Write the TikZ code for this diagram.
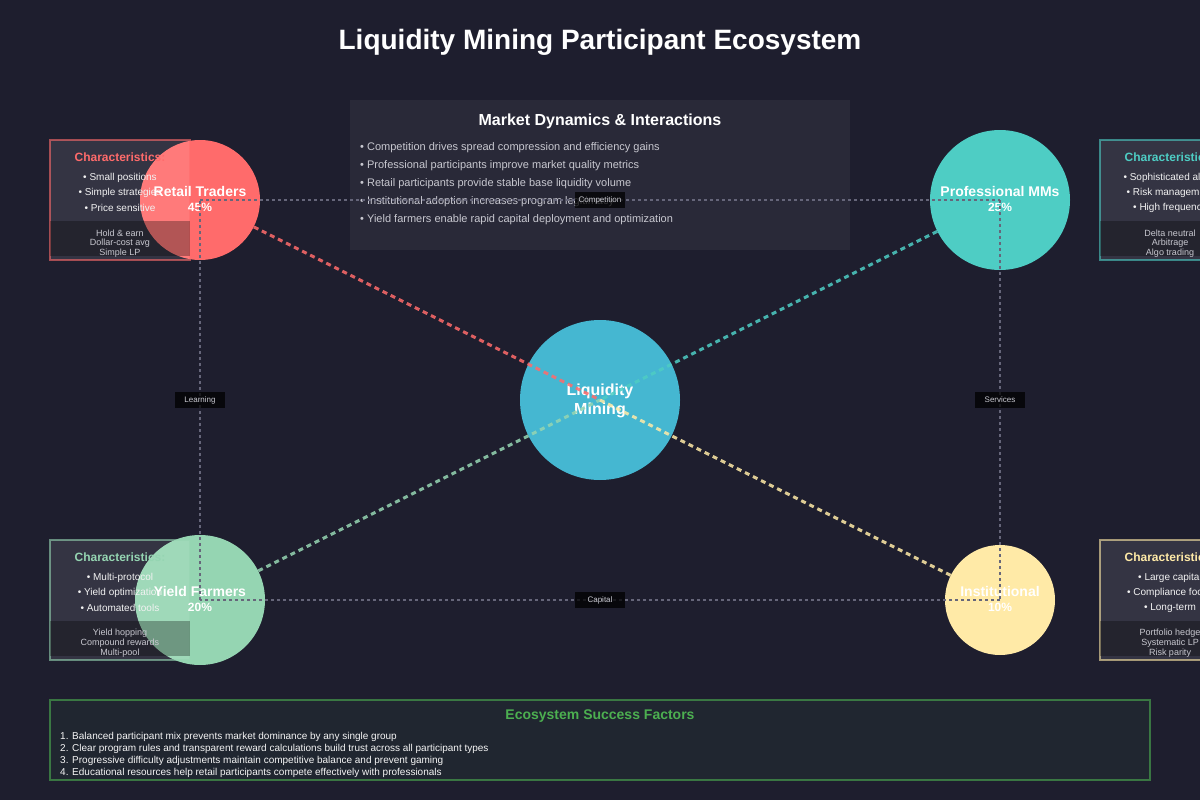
\documentclass[tikz,border=0pt]{standalone}
\usepackage{fontspec}
\setmainfont{Liberation Sans}
\definecolor{bgc}{HTML}{1E1E2E}
\definecolor{retailc}{HTML}{FF6B6B}
\definecolor{proc}{HTML}{4ECDC4}
\definecolor{yieldc}{HTML}{95D5B2}
\definecolor{instc}{HTML}{FFEAA7}
\definecolor{lmc}{HTML}{45B7D1}
\definecolor{greenc}{HTML}{4CAF50}
\definecolor{lightgray}{HTML}{C8C8D0}
\definecolor{dotgray}{HTML}{66667A}
\newcommand{\fs}[1]{\fontsize{#1}{#1}\selectfont}
\tikzset{
  part/.style={circle, inner sep=0pt, minimum size=#1, draw=none},
  pname/.style={text=white, font=\fs{14}\bfseries, inner sep=0pt},
  ppct/.style={text=white, font=\fs{12}\bfseries, inner sep=0pt},
  cbox/.style={rectangle, minimum width=140, minimum height=120, fill=white, fill opacity=0.1, draw=#1, draw opacity=0.6, line width=1.5pt, inner sep=0pt},
  cstrip/.style={rectangle, minimum width=140, minimum height=35, fill=black, fill opacity=0.3, inner sep=0pt},
  ctitle/.style={text=#1, font=\fs{12}\bfseries, inner sep=0pt},
  cbullet/.style={text=white!90!gray, font=\fs{10}, inner sep=0pt},
  cstrat/.style={text=lightgray, font=\fs{9}, inner sep=0pt},
  conn/.style={draw=dotgray, line width=1.5pt, dash pattern=on 3pt off 3pt},
  flow/.style={draw=#1, line width=3pt, dash pattern=on 5pt off 4pt, draw opacity=0.85},
  clabel/.style={rectangle, fill=black, fill opacity=0.75, text opacity=1, text=lightgray, font=\fs{8}, minimum width=50, minimum height=16, inner sep=0pt},
  mbullet/.style={anchor=west, text=lightgray, font=\fs{11}, inner sep=0pt},
  sitem/.style={anchor=west, text=white!92!gray, font=\fs{10}, inner sep=0pt},
}
\newcommand{\partbox}[9]{%
  \node[cbox=#3] (#1box) at (#2) {};
  \node[cstrip, anchor=south] (#1strip) at ([yshift=5]#1box.south) {};
  \node[ctitle=#3] (#1ctitle) at ([yshift=-18]#1box.north) {Characteristics:};
  \node[cbullet] (#1b1) at ([yshift=-39]#1box.north) {• #4};
  \node[cbullet] (#1b2) at ([yshift=-54]#1box.north) {• #5};
  \node[cbullet] (#1b3) at ([yshift=-69]#1box.north) {• #6};
  \node[cstrat] (#1s1) at ([yshift=-94]#1box.north) {#7};
  \node[cstrat] (#1s2) at ([yshift=-104]#1box.north) {#8};
  \node[cstrat] (#1s3) at ([yshift=-114]#1box.north) {#9};
}
\begin{document}
\begin{tikzpicture}[x=1pt,y=-1pt]
\useasboundingbox (0,0) rectangle (1200,800);
\clip (0,0) rectangle (1200,800);
\fill[bgc] (0,0) rectangle (1200,800);

% title
\node[text=white, font=\fs{28}\bfseries, inner sep=0pt] (title) at (600,42) {Liquidity Mining Participant Ecosystem};

% market dynamics box
\node[rectangle, minimum width=500, minimum height=150, fill=white, fill opacity=0.05, inner sep=0pt] (market) at (600,175) {};
\node[text=white, font=\fs{16}\bfseries, inner sep=0pt] (mtitle) at (600,121) {Market Dynamics \& Interactions};
\node[mbullet] (m1) at (360,148) {• Competition drives spread compression and efficiency gains};
\node[mbullet] (m2) at (360,166) {• Professional participants improve market quality metrics};
\node[mbullet] (m3) at (360,184) {• Retail participants provide stable base liquidity volume};
\node[mbullet] (m4) at (360,202) {• Institutional adoption increases program legitimacy};
\node[mbullet] (m5) at (360,220) {• Yield farmers enable rapid capital deployment and optimization};

% circles
\node[part=120, fill=retailc] (retail) at (200,200) {};
\node[part=140, fill=proc] (pro) at (1000,200) {};
\node[part=130, fill=yieldc] (yield) at (200,600) {};
\node[part=110, fill=instc] (inst) at (1000,600) {};
\node[part=160, fill=lmc] (lm) at (600,400) {};

% characteristic boxes
\partbox{r}{120,200}{retailc}{Small positions}{Simple strategies}{Price sensitive}{Hold \& earn}{Dollar-cost avg}{Simple LP}
\partbox{p}{1170,200}{proc}{Sophisticated algos}{Risk management}{High frequency}{Delta neutral}{Arbitrage}{Algo trading}
\partbox{y}{120,600}{yieldc}{Multi-protocol}{Yield optimization}{Automated tools}{Yield hopping}{Compound rewards}{Multi-pool}
\partbox{i}{1170,600}{instc}{Large capital}{Compliance focus}{Long-term}{Portfolio hedge}{Systematic LP}{Risk parity}

% circle labels
\node[pname] (retailname) at (200,191) {Retail Traders};
\node[ppct] (retailpct) at (200,207) {45\%};
\node[pname] (proname) at (1000,191) {Professional MMs};
\node[ppct] (propct) at (1000,207) {25\%};
\node[pname] (yieldname) at (200,591) {Yield Farmers};
\node[ppct] (yieldpct) at (200,607) {20\%};
\node[pname] (instname) at (1000,591) {Institutional};
\node[ppct] (instpct) at (1000,607) {10\%};
\node[text=white, font=\fs{16}\bfseries, inner sep=0pt] (lm1) at (600,391) {Liquidity};
\node[text=white, font=\fs{16}\bfseries, inner sep=0pt] (lm2) at (600,410) {Mining};

% dotted connections between participants
\draw[conn] (retail.center) -- (pro.center);
\draw[conn] (pro.center) -- (inst.center);
\draw[conn] (inst.center) -- (yield.center);
\draw[conn] (yield.center) -- (retail.center);

% flows to center
\draw[flow=retailc] (retail) -- (lm.center);
\draw[flow=proc] (pro) -- (lm.center);
\draw[flow=yieldc] (yield) -- (lm.center);
\draw[flow=instc] (inst) -- (lm.center);

% connection labels
\node[clabel] (lcomp) at (600,200) {Competition};
\node[clabel] (llearn) at (200,400) {Learning};
\node[clabel] (lserv) at (1000,400) {Services};
\node[clabel] (lcap) at (600,600) {Capital};

% success factors
\node[rectangle, minimum width=1100, minimum height=80, fill=greenc, fill opacity=0.06, draw=greenc, draw opacity=0.6, line width=1.5pt, inner sep=0pt] (success) at (600,740) {};
\node[text=greenc, font=\fs{14}\bfseries, inner sep=0pt] (stitle) at (600,716) {Ecosystem Success Factors};
\node[sitem] (s1) at (60,737) {1. Balanced participant mix prevents market dominance by any single group};
\node[sitem] (s2) at (60,749) {2. Clear program rules and transparent reward calculations build trust across all participant types};
\node[sitem] (s3) at (60,761) {3. Progressive difficulty adjustments maintain competitive balance and prevent gaming};
\node[sitem] (s4) at (60,773) {4. Educational resources help retail participants compete effectively with professionals};
\end{tikzpicture}
\end{document}
